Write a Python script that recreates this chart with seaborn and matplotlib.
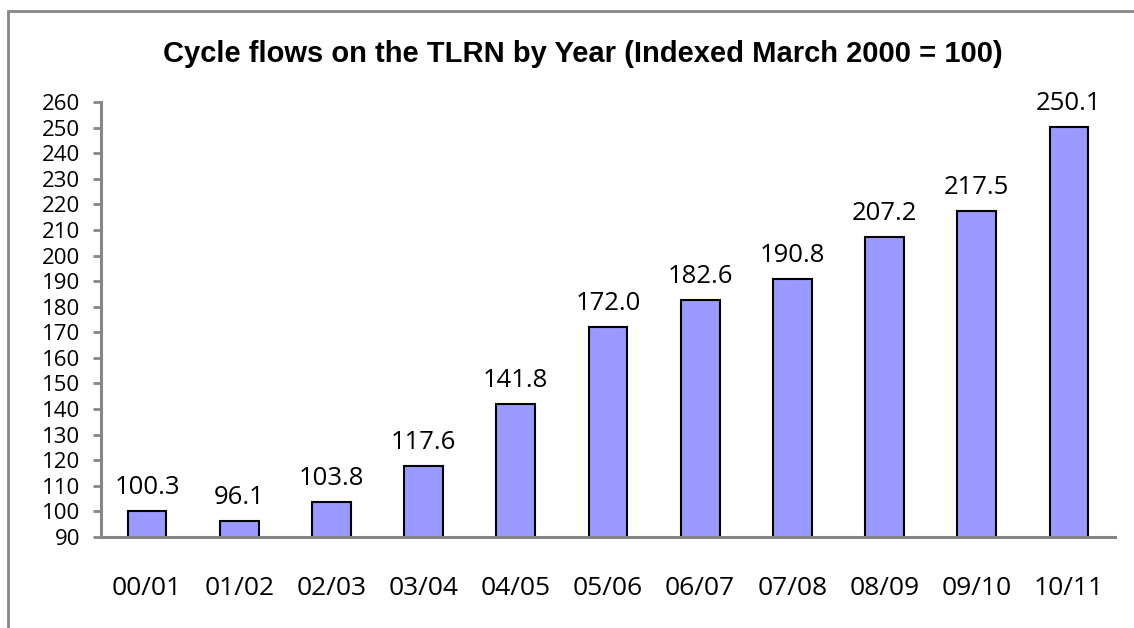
import numpy as np
import pandas as pd
import matplotlib
matplotlib.use("Agg")
import matplotlib.pyplot as plt
import matplotlib.patches as mpatches
import seaborn as sns

categories = ["00/01", "01/02", "02/03", "03/04", "04/05", "05/06",
              "06/07", "07/08", "08/09", "09/10", "10/11"]
values = [100.3, 96.1, 103.8, 117.6, 141.8, 172.0, 182.6, 190.8, 207.2, 217.5, 250.1]
y_ticks = list(range(90, 261, 10))
title = "Cycle flows on the TLRN by Year (Indexed March 2000 = 100)"

sns.set_style("white")
plt.rcParams['font.family'] = ['Open Sans', 'DejaVu Sans']
plt.rcParams['text.color'] = 'black'
plt.rcParams['xtick.labelcolor'] = 'black'
plt.rcParams['ytick.labelcolor'] = 'black'

df = pd.DataFrame({"year": categories, "index": values})

fig = plt.figure(figsize=(11.34, 6.28), dpi=100)
ax = fig.add_axes([101/1134, 1 - 537/628, (1115-101)/1134, (537-102)/628])

sns.barplot(data=df, x="year", y="index", color="#9999FF", saturation=1,
            width=0.42, edgecolor="black", linewidth=1.5, ax=ax)

ax.set_ylim(90, 260)
ax.set_xlim(-0.5, len(categories) - 0.5)

for c in ax.containers:
    ax.bar_label(c, labels=[f"{v:.1f}" for v in values], padding=8,
                 fontsize=18.5, color="black")

grey = "#868686"
ax.set_yticks(y_ticks)
ax.set_yticklabels([str(t) for t in y_ticks], fontsize=16)
ax.set_xticks(np.arange(-0.5, len(categories), 1.0))
ax.set_xticklabels([])
ax.set_xticks(np.arange(len(categories)), minor=True)
ax.set_xticklabels(categories, minor=True, fontsize=19)
ax.tick_params(axis="x", which="major", length=7, width=2, color=grey, direction="out")
ax.tick_params(axis="x", which="minor", length=0, pad=28, labelcolor="black")
ax.tick_params(axis="y", length=6, width=2, color=grey, direction="out", pad=9,
               left=True, labelcolor="black")
ax.set_xlabel("")
ax.set_ylabel("")
for s in ["top", "right"]:
    ax.spines[s].set_visible(False)
for s in ["left", "bottom"]:
    ax.spines[s].set_color(grey)
    ax.spines[s].set_linewidth(2.2)

fig.text(583/1134, 1 - 62/628, title, ha="center", va="baseline",
         fontsize=21, fontweight="bold", family="Liberation Sans", color="black")

frame = mpatches.Rectangle((8/1134, -0.1), 1.2, 1 - 11/628 + 0.1,
                           transform=fig.transFigure, fill=False,
                           edgecolor=grey, linewidth=2, clip_on=False)
fig.patches.append(frame)

fig.savefig("out.png", dpi=100)
